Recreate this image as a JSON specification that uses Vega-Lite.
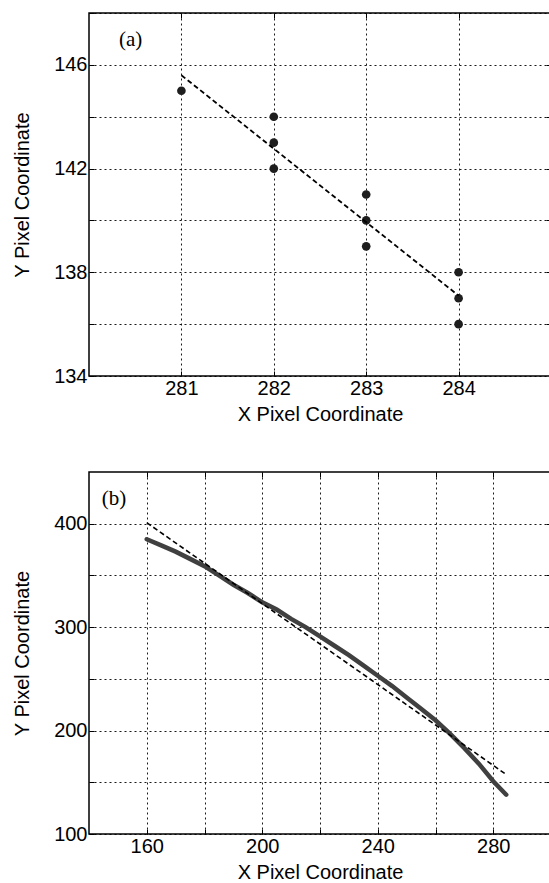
{
  "$schema": "https://vega.github.io/schema/vega-lite/v6.json",
  "background": "white",
  "padding": {"left": 11, "top": 11, "right": 0, "bottom": 0},
  "datasets": {
    "pts": [
      {"x": 281, "y": 145}, {"x": 282, "y": 144}, {"x": 282, "y": 143}, {"x": 282, "y": 142},
      {"x": 283, "y": 141}, {"x": 283, "y": 140}, {"x": 283, "y": 139},
      {"x": 284, "y": 138}, {"x": 284, "y": 137}, {"x": 284, "y": 136}
    ],
    "fitA": [{"x": 281, "y": 145.6}, {"x": 284, "y": 137.1}],
    "labA": [{"x": 280.45, "y": 146.95, "t": "(a)"}],
    "fitB": [{"x": 160, "y": 401}, {"x": 284.5, "y": 157.5}],
    "curveB": [
      {"x": 160, "y": 385}, {"x": 165, "y": 379}, {"x": 170, "y": 373}, {"x": 175, "y": 366},
      {"x": 180, "y": 359}, {"x": 185, "y": 350}, {"x": 190, "y": 341}, {"x": 195, "y": 333},
      {"x": 200, "y": 324}, {"x": 205, "y": 317}, {"x": 210, "y": 308}, {"x": 215, "y": 300},
      {"x": 220, "y": 291}, {"x": 225, "y": 282}, {"x": 230, "y": 273}, {"x": 235, "y": 263},
      {"x": 240, "y": 253}, {"x": 245, "y": 243}, {"x": 250, "y": 232}, {"x": 255, "y": 221},
      {"x": 260, "y": 210}, {"x": 265, "y": 197}, {"x": 270, "y": 183}, {"x": 275, "y": 168},
      {"x": 280, "y": 151}, {"x": 284.5, "y": 138}
    ],
    "labB": [{"x": 148.7, "y": 423.5, "t": "(b)"}]
  },
  "vconcat": [
    {
      "width": 462,
      "height": 363,
      "layer": [
        {
          "data": {"name": "pts"},
          "mark": {"type": "point", "filled": true, "shape": "circle", "color": "#1e1e1e", "size": 75, "opacity": 1},
          "encoding": {
            "x": {"field": "x", "type": "quantitative", "scale": {"domain": [280, 285], "nice": false, "zero": false},
                  "axis": {"title": "X Pixel Coordinate", "values": [281, 282, 283, 284], "format": "d"}},
            "y": {"field": "y", "type": "quantitative", "scale": {"domain": [134, 148], "nice": false, "zero": false},
                  "axis": {"title": "Y Pixel Coordinate", "values": [134, 136, 138, 140, 142, 144, 146, 148], "labelExpr": "datum.value % 4 == 2 ? datum.label : ''"}}
          }
        },
        {
          "data": {"name": "fitA"},
          "mark": {"type": "line", "color": "black", "strokeWidth": 1.8, "strokeDash": [5, 3]},
          "encoding": {
            "x": {"field": "x", "type": "quantitative",
                  "axis": {"orient": "top", "title": null, "labels": false, "grid": false, "values": [281, 282, 283, 284]}},
            "y": {"field": "y", "type": "quantitative",
                  "axis": {"orient": "right", "title": null, "labels": false, "grid": false, "values": [136, 138, 140, 142, 144, 146]}}
          }
        },
        {
          "data": {"name": "labA"},
          "mark": {"type": "text", "font": "Liberation Serif", "fontSize": 21, "color": "black"},
          "encoding": {
            "x": {"field": "x", "type": "quantitative", "axis": null},
            "y": {"field": "y", "type": "quantitative", "axis": null},
            "text": {"field": "t"}
          }
        }
      ],
      "resolve": {"axis": {"x": "independent", "y": "independent"}}
    },
    {
      "width": 462,
      "height": 362,
      "layer": [
        {
          "data": {"name": "curveB"},
          "mark": {"type": "line", "color": "#404040", "strokeWidth": 4.5, "strokeCap": "round"},
          "encoding": {
            "x": {"field": "x", "type": "quantitative", "scale": {"domain": [140, 300], "nice": false, "zero": false},
                  "axis": {"title": "X Pixel Coordinate", "values": [160, 180, 200, 220, 240, 260, 280], "labelExpr": "datum.value % 40 == 0 ? datum.label : ''"}},
            "y": {"field": "y", "type": "quantitative", "scale": {"domain": [100, 450], "nice": false, "zero": false},
                  "axis": {"title": "Y Pixel Coordinate", "values": [100, 150, 200, 250, 300, 350, 400], "labelExpr": "datum.value % 100 == 0 ? datum.label : ''"}}
          }
        },
        {
          "data": {"name": "fitB"},
          "mark": {"type": "line", "color": "black", "strokeWidth": 1.6, "strokeDash": [5, 3]},
          "encoding": {
            "x": {"field": "x", "type": "quantitative",
                  "axis": {"orient": "top", "title": null, "labels": false, "grid": false, "values": [160, 180, 200, 220, 240, 260, 280]}},
            "y": {"field": "y", "type": "quantitative",
                  "axis": {"orient": "right", "title": null, "labels": false, "grid": false, "values": [150, 200, 250, 300, 350, 400]}}
          }
        },
        {
          "data": {"name": "labB"},
          "mark": {"type": "text", "font": "Liberation Serif", "fontSize": 21, "color": "black"},
          "encoding": {
            "x": {"field": "x", "type": "quantitative", "axis": null},
            "y": {"field": "y", "type": "quantitative", "axis": null},
            "text": {"field": "t"}
          }
        }
      ],
      "resolve": {"axis": {"x": "independent", "y": "independent"}}
    }
  ],
  "spacing": 96,
  "bounds": "flush",
  "config": {
    "view": {"stroke": "black", "strokeWidth": 1.5},
    "axis": {
      "labelFont": "Liberation Sans", "labelFontSize": 20, "labelColor": "black",
      "titleFont": "Liberation Sans", "titleFontSize": 20, "titleFontWeight": "normal", "titleColor": "black",
      "grid": true, "gridColor": "black", "gridDash": [2, 3], "gridWidth": 0.9, "gridOpacity": 1,
      "domain": false, "ticks": true, "tickColor": "black", "tickSize": -5, "tickWidth": 1,
      "labelPadding": 7, "titlePadding": 6
    },
    "axisY": {"titlePadding": 21}
  }
}
